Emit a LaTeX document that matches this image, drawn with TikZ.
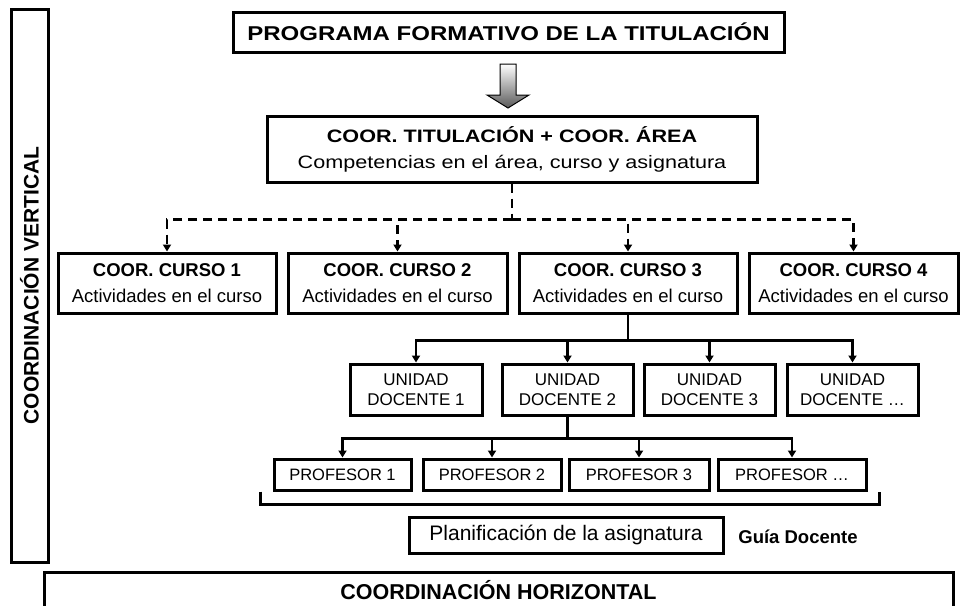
\documentclass[tikz,border=0pt]{standalone}
\usepackage{fontspec}
\setmainfont{Liberation Sans}
\newfontfamily\widesans[FakeStretch=1.2]{Liberation Sans}
\usetikzlibrary{arrows.meta}

\begin{document}
\begin{tikzpicture}[x=1pt, y=-1pt,
    caja/.style={draw, line width=3pt, inner sep=0pt, align=center},
    flecha/.style={line width=2.2pt, -{Triangle[length=7pt,width=8pt]}},
    linea/.style={line width=2.2pt},
    discont/.style={line width=2.2pt, dash pattern=on 9pt off 6pt}]
   \useasboundingbox (0,0) rectangle (961,605);

   % marcos de coordinacion
   \node[caja, rotate=90, minimum width=553pt, minimum height=37pt,
         font=\bfseries\fontsize{21}{25}\selectfont] (vertical) at (29.5,285.5) {COORDINACIÓN VERTICAL};
   \node[caja, minimum width=909pt, minimum height=36pt,
         font=\bfseries\fontsize{21.5}{25}\selectfont] (horizontal) at (498.5,590) {COORDINACIÓN HORIZONTAL};

   % titulacion
   \node[caja, minimum width=551pt, minimum height=40pt,
         font=\widesans\bfseries\fontsize{20}{24}\selectfont] (titulo) at (508.5,32) {PROGRAMA FORMATIVO DE LA TITULACIÓN};
   \shadedraw[top color=white, bottom color=black!65, draw=black, line width=1pt]
      (500,64) -- (516,64) -- (516,95) -- (529,95) -- (508,108) -- (487,95) -- (500,95) -- cycle;
   \node[caja, minimum width=490pt, minimum height=66pt,
         font=\widesans\fontsize{18}{26}\selectfont] (coortit) at (512,149)
        {{\bfseries COOR. TITULACIÓN + COOR. ÁREA}\\Competencias en el área, curso y asignatura};

   % cursos
   \node[caja, minimum width=218pt, minimum height=60pt, font=\fontsize{18.5}{26}\selectfont] (curso1) at (167,283)
        {{\bfseries COOR. CURSO 1}\\Actividades en el curso};
   \node[caja, minimum width=219pt, minimum height=60pt, font=\fontsize{18.5}{26}\selectfont] (curso2) at (397.5,283)
        {{\bfseries COOR. CURSO 2}\\Actividades en el curso};
   \node[caja, minimum width=218pt, minimum height=60pt, font=\fontsize{18.5}{26}\selectfont] (curso3) at (628,283)
        {{\bfseries COOR. CURSO 3}\\Actividades en el curso};
   \node[caja, minimum width=209pt, minimum height=60pt, font=\fontsize{18.5}{26}\selectfont] (curso4) at (853.5,283)
        {{\bfseries COOR. CURSO 4}\\Actividades en el curso};

   % unidades docentes
   \node[caja, minimum width=132pt, minimum height=51pt, font=\fontsize{17}{20}\selectfont] (unidad1) at (416,389.5) {UNIDAD\\DOCENTE 1};
   \node[caja, minimum width=131pt, minimum height=51pt, font=\fontsize{17}{20}\selectfont] (unidad2) at (567.5,389.5) {UNIDAD\\DOCENTE 2};
   \node[caja, minimum width=131pt, minimum height=51pt, font=\fontsize{17}{20}\selectfont] (unidad3) at (709.5,389.5) {UNIDAD\\DOCENTE 3};
   \node[caja, minimum width=131pt, minimum height=51pt, font=\fontsize{17}{20}\selectfont] (unidad4) at (852.5,389.5) {UNIDAD\\DOCENTE …};

   % profesores
   \node[caja, minimum width=137pt, minimum height=31pt, font=\fontsize{16.5}{20}\selectfont] (prof1) at (342.5,474.5) {PROFESOR 1};
   \node[caja, minimum width=138pt, minimum height=31pt, font=\fontsize{16.5}{20}\selectfont] (prof2) at (492,474.5) {PROFESOR 2};
   \node[caja, minimum width=140pt, minimum height=31pt, font=\fontsize{16.5}{20}\selectfont] (prof3) at (639,474.5) {PROFESOR 3};
   \node[caja, minimum width=148pt, minimum height=31pt, font=\fontsize{16.5}{20}\selectfont] (prof4) at (792,474.5) {PROFESOR …};

   \node[caja, minimum width=314pt, minimum height=36pt, font=\fontsize{21}{25}\selectfont] (planif) at (566,535) {Planificación de la asignatura};
   \node[font=\bfseries\fontsize{18.5}{22}\selectfont] (guia) at (798,537) {Guía Docente};

   % conexiones
   \draw[discont] (coortit.south) -- ++(0,36) coordinate (dj);
   \foreach \c in {curso1,curso2,curso3,curso4}
      \draw[discont, flecha] (dj) -| (\c.north);

   \draw[linea] (curso3.south) -- ++(0,26) coordinate (uj);
   \foreach \u in {unidad1,unidad2,unidad3,unidad4}
      \draw[flecha] (uj) -| (\u.north);

   \draw[linea] (unidad2.south) -- ++(0,22) coordinate (pj);
   \foreach \p in {prof1,prof2,prof3,prof4}
      \draw[flecha] (pj) -| (\p.north);

   \draw[linea] ([xshift=-12pt]prof1.south west) -- ++(0,13) -| ([xshift=12pt]prof4.south east);
  \end{tikzpicture}
\end{document}
